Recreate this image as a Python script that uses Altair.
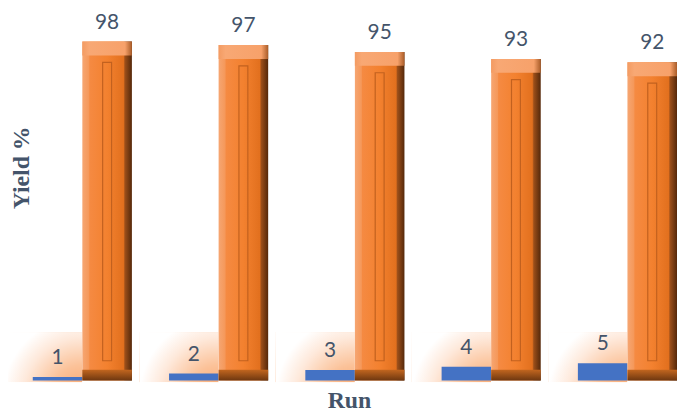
import altair as alt
import pandas as pd

runs = [1, 2, 3, 4, 5]
run_values = [1, 2, 3, 4, 5]
yields = [98, 97, 95, 93, 92]
series = ["Run", "Yield"]

rows = []
for r, rv, yv in zip(runs, run_values, yields):
    rows.append({"run": str(r), "series": "Run", "value": rv})
    rows.append({"run": str(r), "series": "Yield", "value": yv})
df = pd.DataFrame(rows)

TEXT_COLOR = "#44546A"

xaxis = alt.Axis(title="Run", labels=False, ticks=False, domain=False, grid=False,
                 titleFont="Liberation Serif", titleFontSize=24, titleFontWeight="bold",
                 titleColor=TEXT_COLOR, titleX=319, titleY=27,
                 titleBaseline="alphabetic", titleAlign="center")
yaxis = alt.Axis(title="Yield %", labels=False, ticks=False, domain=False, grid=False,
                 titleFont="Liberation Serif", titleFontSize=24, titleFontWeight="bold",
                 titleColor=TEXT_COLOR, titleAngle=270, titleX=-11, titleY=159,
                 titleAlign="center", titleBaseline="middle")

X = alt.X("run:N", sort=None, scale=alt.Scale(paddingInner=0.2727, paddingOuter=0), axis=xaxis)
XO = alt.XOffset("series:N", sort=series,
                 scale=alt.Scale(domain=series, paddingInner=0, paddingOuter=0))
yscale = alt.Scale(domain=[0, 107.2], nice=False, zero=True)


def Y(field):
    return alt.Y(field, scale=yscale, axis=yaxis)


base = alt.Chart(df)
blue = base.transform_filter(alt.datum.series == "Run")
orange = base.transform_filter(alt.datum.series == "Yield")

glow_fill = {
    "gradient": "radial", "x1": 1, "y1": 1, "r1": 0, "x2": 1, "y2": 1, "r2": 1,
    "stops": [
        {"offset": 0, "color": "#F8A265"},
        {"offset": 0.4, "color": "#FBC299"},
        {"offset": 0.75, "color": "#FEE9DB"},
        {"offset": 1, "color": "#FFFFFF"},
    ],
}
glow = blue.transform_calculate(gtop="14", gbot="-0.5").mark_bar(
    width=80, xOffset=-40, fill=glow_fill
).encode(x=X, y=Y("gtop:Q"), y2="gbot:Q")

blue_bars = blue.mark_bar(color="#4472C4").encode(x=X, xOffset=XO, y=Y("value:Q"))

orange_fill = {
    "gradient": "linear", "x1": 0, "y1": 0, "x2": 1, "y2": 0,
    "stops": [
        {"offset": 0, "color": "#F6A672"},
        {"offset": 0.13, "color": "#F5985A"},
        {"offset": 0.15, "color": "#F58A42"},
        {"offset": 0.5, "color": "#F3812F"},
        {"offset": 0.83, "color": "#E2701E"},
        {"offset": 0.86, "color": "#9C4F1A"},
        {"offset": 1, "color": "#55280A"},
    ],
}
orange_bars = orange.mark_bar(fill=orange_fill).encode(x=X, xOffset=XO, y=Y("value:Q"))

cap_fill = {
    "gradient": "linear", "x1": 0, "y1": 0, "x2": 1, "y2": 0,
    "stops": [
        {"offset": 0, "color": "#F39B62"},
        {"offset": 0.14, "color": "#F8A874"},
        {"offset": 0.86, "color": "#F7A16A"},
        {"offset": 1, "color": "#A95C28"},
    ],
}
cap = orange.transform_calculate(ctop="datum.value", cbot="datum.value - 4").mark_bar(
    fill=cap_fill
).encode(x=X, xOffset=XO, y=Y("ctop:Q"), y2="cbot:Q")

bottom_fill = {
    "gradient": "linear", "x1": 0, "y1": 0, "x2": 0, "y2": 1,
    "stops": [
        {"offset": 0, "color": "#C2661F"},
        {"offset": 1, "color": "#6E3710"},
    ],
}
bottom = orange.transform_calculate(btop="3.1", bbot="0").mark_bar(
    fill=bottom_fill
).encode(x=X, xOffset=XO, y=Y("btop:Q"), y2="bbot:Q")

groove = orange.transform_calculate(gt="datum.value - 6", gb="5.7").mark_bar(
    width=9, fillOpacity=0, stroke="#C2611F", strokeWidth=1.2
).encode(x=X, xOffset=XO, y=Y("gt:Q"), y2="gb:Q")

labels = base.mark_text(
    dy=-13, baseline="alphabetic", align="center", font="Lato", fontSize=21, color=TEXT_COLOR
).encode(x=X, xOffset=XO, y=Y("value:Q"), text="value:Q")

chart = alt.layer(glow, blue_bars, orange_bars, bottom, cap, groove, labels).properties(
    width=650, height=374,
    autosize=alt.AutoSizeParams(type="none"),
    padding={"left": 25, "top": 0, "right": 0, "bottom": 30},
).configure_view(stroke=None)

chart.save("out.html", embed_options={"renderer": "svg", "actions": False})
